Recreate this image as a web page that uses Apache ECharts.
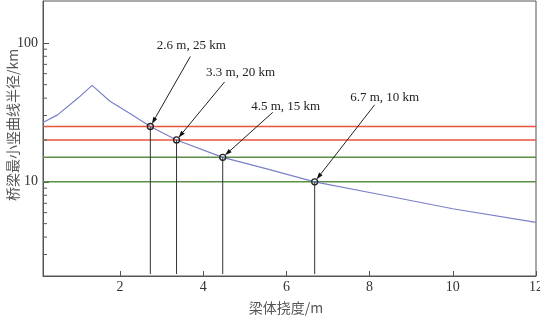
<!DOCTYPE html>
<html><head><meta charset="utf-8">
<script src="https://cdn.jsdelivr.net/npm/echarts@6/dist/echarts.min.js"></script>
<style>html,body{margin:0;padding:0;background:#fff}#c{width:540px;height:316px}</style>
</head><body><div id="c"></div>
<script>
// ---- data ----
const curveX = [0.15, 0.5, 1.0, 1.33, 1.76, 2.24, 2.73, 3.36, 4.47, 5.53, 6.68, 8.25, 10, 12];
const curveY = [26.7, 30.3, 40.2, 49.4, 38, 31, 25, 20, 15, 12.4, 10, 8.1, 6.4, 5.1];
const limitRed = [25, 20];
const limitGreen = [15, 10];
const markX = [2.73, 3.36, 4.47, 6.68];
const markY = [25, 20, 15, 10];
const markLabels = ['2.6 m, 25 km', '3.3 m, 20 km', '4.5 m, 15 km', '6.7 m, 10 km'];
const yLabelValues = [10, 100];
const yMinorTicks = [3, 4, 5, 6, 7, 8, 9, 20, 30, 40, 50, 60, 70, 80, 90];
const xRange = [0.15, 12];
const yRange = [2.1, 200];
const xName = '梁体挠度/m';
const yName = '桥梁最小竖曲线半径/km';

// ---- layout (pixel offsets of annotation from its point) ----
const arrowTail = [[40, -70], [48, -58], [50, -45], [60, -77]];
const labelOffset = [[41, -81], [64, -67], [63, -51], [70, -84]];

const chart = echarts.init(document.getElementById('c'), null, {renderer: 'canvas'});
const serif = '"Liberation Serif", "Times New Roman", serif';

function hLine(v, color) {
  return {
    type: 'line', data: [[xRange[0], v], [xRange[1], v]], symbol: 'none',
    lineStyle: {color: color, width: 1.5}, z: 2, silent: true
  };
}

const option = {
  animation: false,
  backgroundColor: '#fff',
  grid: {left: 43, right: 4, top: 1, bottom: 40, show: true, borderColor: '#555', borderWidth: 1,
         containLabel: false, outerBoundsMode: 'none'},
  graphic: [{
    type: 'text', x: 12.5, y: 125, rotation: Math.PI / 2,
    style: {text: yName, font: '14px "Noto Sans CJK SC"', fill: '#555', align: 'center', verticalAlign: 'middle'}
  }],
  xAxis: {
    type: 'value', min: xRange[0], max: xRange[1], splitNumber: 6,
    name: xName, nameLocation: 'middle', nameGap: 25,
    nameTextStyle: {fontFamily: '"Noto Sans CJK SC"', fontSize: 14, color: '#555', padding: [0, 7, 0, 0]},
    axisLine: {lineStyle: {color: '#555'}},
    axisTick: {inside: true, length: 5, lineStyle: {color: '#555'}},
    axisLabel: {showMinLabel: false, fontFamily: serif, fontSize: 14, color: '#333', margin: 4},
    splitLine: {show: false}
  },
  yAxis: {
    type: 'log', logBase: 10, min: yRange[0], max: yRange[1],
    axisLine: {lineStyle: {color: '#555'}},
    axisTick: {inside: true, length: 6, lineStyle: {color: '#555'}},
    axisLabel: {
      fontFamily: serif, fontSize: 14, color: '#333', margin: 5,
      showMinLabel: false, showMaxLabel: false,
      formatter: function (v) {
        for (const t of yLabelValues) { if (Math.abs(v - t) / t < 1e-6) return String(t); }
        return '';
      }
    },
    splitLine: {show: false}
  },
  series: [
    hLine(limitRed[0], '#e8553e'),
    hLine(limitRed[1], '#e8553e'),
    hLine(limitGreen[0], '#5a8f46'),
    hLine(limitGreen[1], '#5a8f46'),
    {
      type: 'line', data: curveX.map((x, i) => [x, curveY[i]]), symbol: 'none',
      lineStyle: {color: '#7a80c8', width: 1.2}, z: 3, silent: true
    },
    {
      type: 'custom', z: 4, silent: true,
      data: yMinorTicks.map(v => [xRange[0], v]),
      renderItem: function (params, api) {
        const p = api.coord([xRange[0], api.value(1)]);
        const x0 = params.coordSys.x;
        return {type: 'line', shape: {x1: x0, y1: p[1], x2: x0 + 4, y2: p[1]}, style: {stroke: '#555', lineWidth: 1}};
      }
    },
    {
      type: 'custom', z: 5, silent: true,
      data: markX.map((x, i) => [x, markY[i], i]),
      renderItem: function (params, api) {
        const p = api.coord([api.value(0), api.value(1)]);
        const i = api.value(2);
        const bottom = params.coordSys.y + params.coordSys.height;
        const t = arrowTail[i], l = labelOffset[i];
        const tx = p[0] + t[0], ty = p[1] + t[1];
        const dx = p[0] - tx, dy = p[1] - ty, len = Math.hypot(dx, dy);
        const ux = dx / len, uy = dy / len;
        const tip = [p[0] - ux * 3, p[1] - uy * 3];
        const base = [tip[0] - ux * 7, tip[1] - uy * 7];
        const nx = -uy, ny = ux;
        return {
          type: 'group', children: [
            {type: 'line', shape: {x1: p[0], y1: p[1], x2: p[0], y2: bottom - 2}, style: {stroke: '#333', lineWidth: 1}},
            {type: 'line', shape: {x1: tx, y1: ty, x2: base[0], y2: base[1]}, style: {stroke: '#222', lineWidth: 1}},
            {type: 'polygon', shape: {points: [tip, [base[0] + nx * 2.2, base[1] + ny * 2.2], [base[0] - nx * 2.2, base[1] - ny * 2.2]]}, style: {fill: '#111'}},
            {type: 'circle', shape: {cx: p[0], cy: p[1], r: 3}, style: {fill: 'rgba(255,255,255,0)', stroke: '#222', lineWidth: 1.3}},
            {type: 'text', x: p[0] + l[0], y: p[1] + l[1], style: {text: markLabels[i], font: '13px ' + serif, fill: '#222', align: 'center', verticalAlign: 'middle'}}
          ]
        };
      }
    }
  ]
};
chart.setOption(option);
</script>
</body></html>
